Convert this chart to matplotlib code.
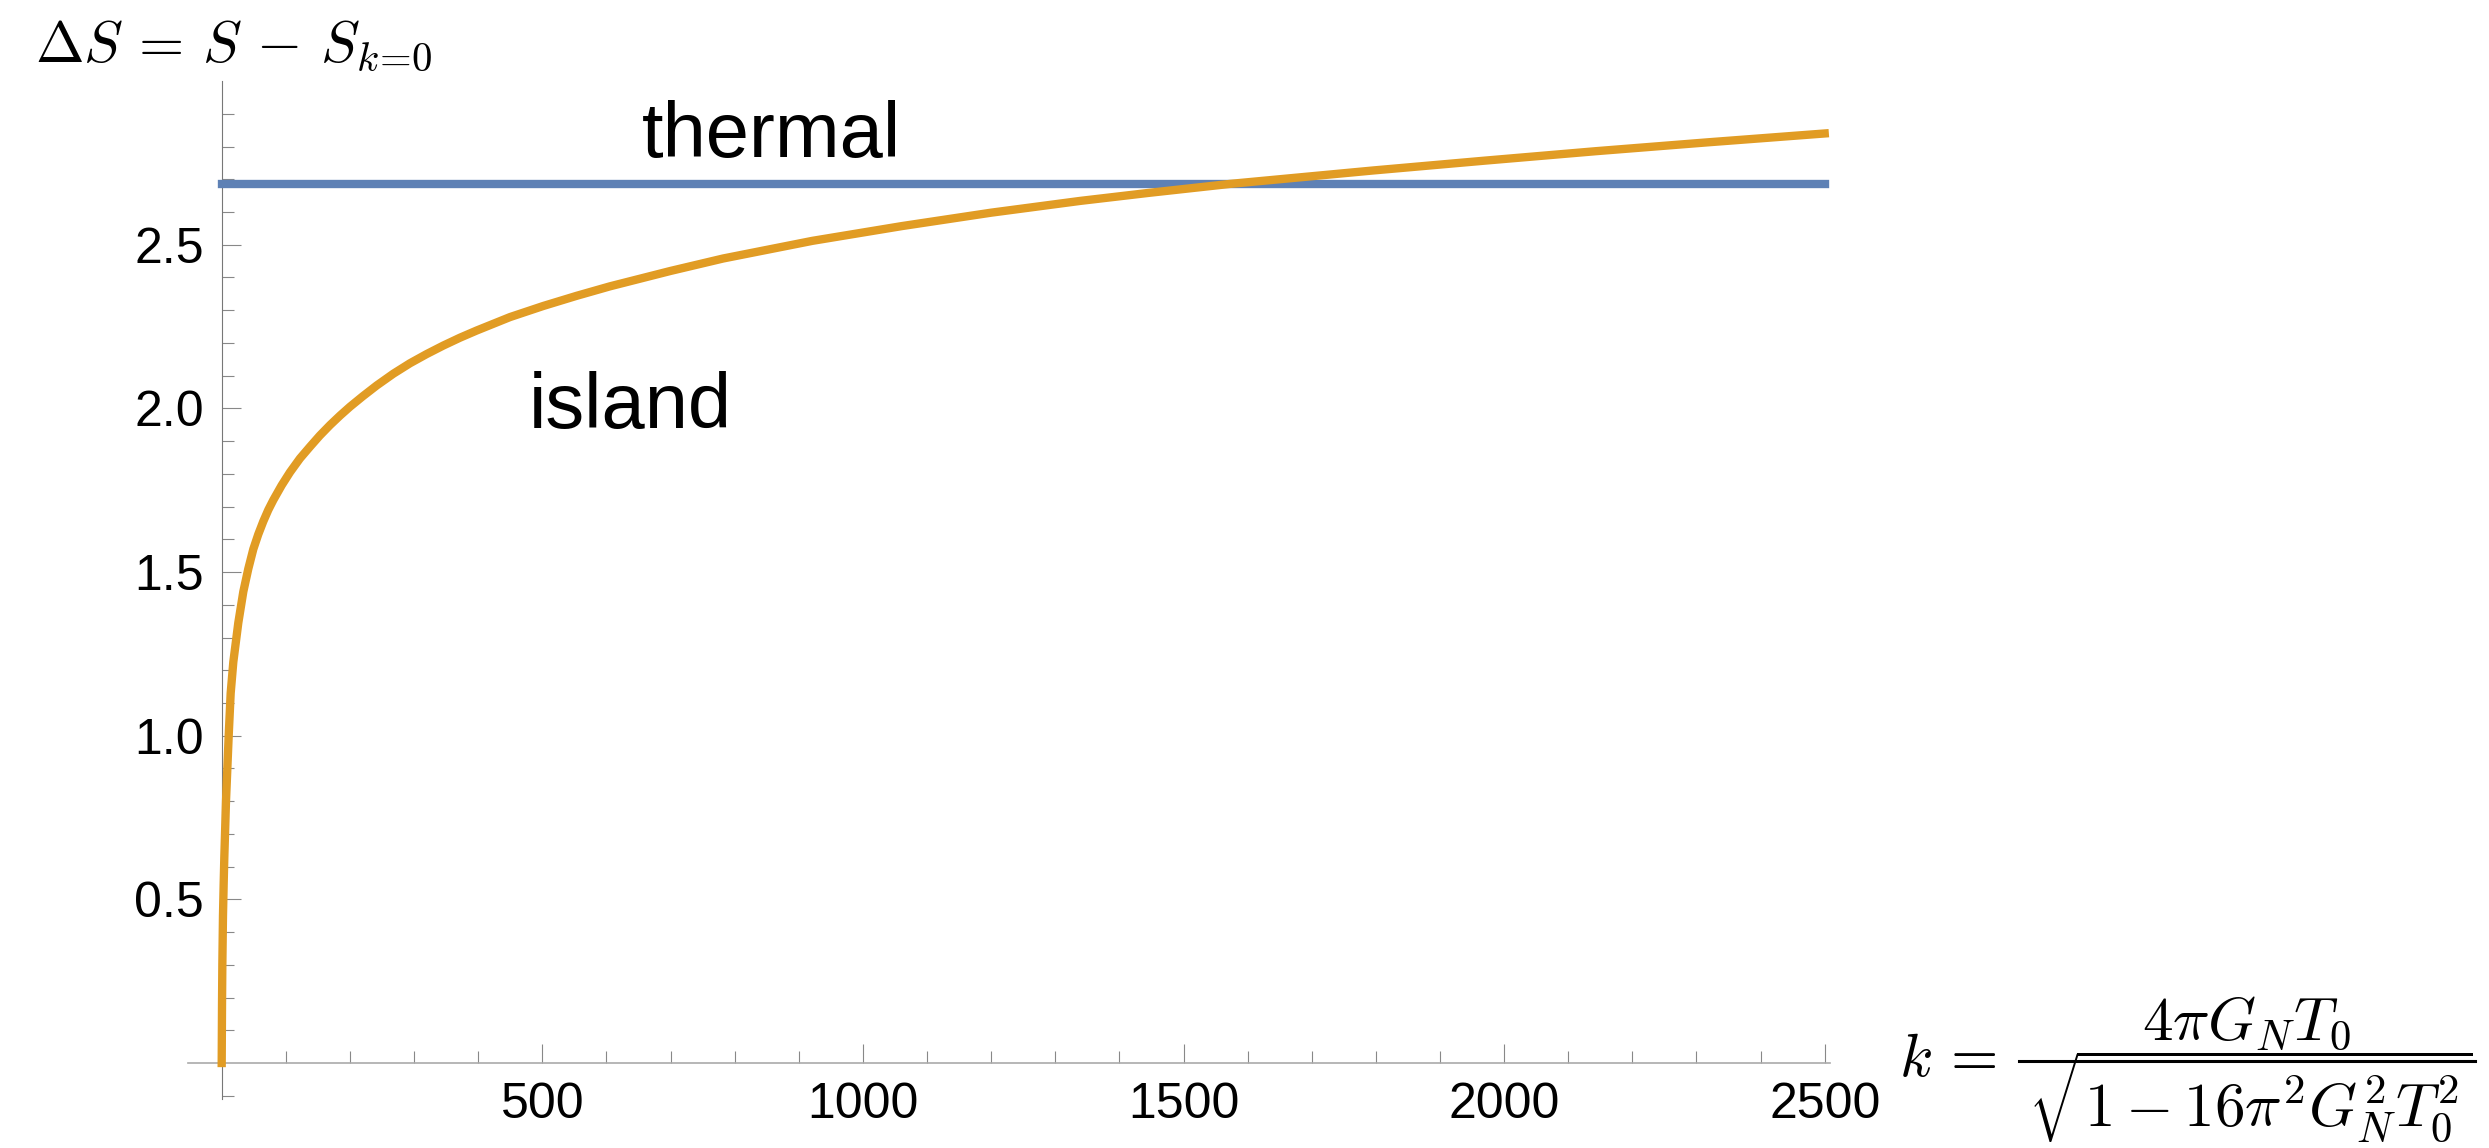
import numpy as np
import matplotlib
matplotlib.use("Agg")
import matplotlib.pyplot as plt
from matplotlib.ticker import FixedLocator, FuncFormatter
from matplotlib.lines import Line2D

plt.rcParams['font.family'] = ['Liberation Sans', 'DejaVu Sans']
plt.rcParams['mathtext.fontset'] = 'cm'

# ---- data ----
k_island = [0, 0.5, 1.0, 2.0, 3.1, 4.1, 6.7, 10.9, 14.0, 18.1, 25.9, 33.7, 41.5,
            49.3, 57, 64.9, 72.7, 80.5, 93.5, 106.5, 122, 137.7, 153, 168.9, 184.5,
            200, 220, 241.7, 267.7, 293.7, 319.6, 345.6, 371.6, 397.7, 449.6, 501.6,
            553.6, 605.6, 700, 782, 921.4, 1060.7, 1200, 1339, 1448, 1573, 1796,
            1970, 2144, 2318, 2500]
s_island = [0.0, 0.18, 0.30, 0.45, 0.55, 0.63, 0.80, 1.00, 1.13, 1.225, 1.345, 1.44, 1.51,
            1.57, 1.615, 1.655, 1.69, 1.72, 1.765, 1.805, 1.847, 1.883, 1.917, 1.949, 1.978,
            2.005, 2.037, 2.070, 2.106, 2.138, 2.166, 2.192, 2.216, 2.238, 2.279, 2.313,
            2.344, 2.373, 2.420, 2.458, 2.512, 2.557, 2.598, 2.634, 2.659, 2.686, 2.727,
            2.757, 2.786, 2.813, 2.840]
k_thermal = [0, 2500]
s_thermal = [2.686, 2.686]

x_major = [500, 1000, 1500, 2000, 2500]
x_minor = [v for v in range(100, 2500, 100) if v % 500 != 0]
y_major = [0.5, 1.0, 1.5, 2.0, 2.5]
y_minor = [round(v, 1) for v in np.arange(-0.1, 3.0, 0.1)
           if abs(v) > 1e-9 and abs(round(v * 2) - v * 2) > 1e-6]

W, H = 2489, 1148
fig = plt.figure(figsize=(W / 100, H / 100), dpi=100)

# axes geometry (pixels of the reference)
x0_px, y0_px = 221.7, 1063.0
px_per_x, px_per_y = 0.6412, 327.3
xlim = (-52, 2508)
ylim = (-0.11, 3.0)
left = (x0_px + xlim[0] * px_per_x) / W
width = (xlim[1] - xlim[0]) * px_per_x / W
bottom = (H - (y0_px - ylim[0] * px_per_y)) / H
height = (ylim[1] - ylim[0]) * px_per_y / H
ax = fig.add_axes([left, bottom, width, height])
ax.set_xlim(*xlim)
ax.set_ylim(*ylim)

orange = '#E19C24'
blue = '#5E81B5'
ax.plot(k_thermal, s_thermal, color=blue, lw=6.0, solid_capstyle='projecting',
        clip_on=False, zorder=3)
ax.plot(k_island, s_island, color=orange, lw=6.0, solid_capstyle='projecting',
        solid_joinstyle='round', clip_on=False, zorder=4)

for sp in ['top', 'right']:
    ax.spines[sp].set_visible(False)
ax.spines['left'].set_position(('data', 0))
ax.spines['bottom'].set_position(('data', 0))
ax.spines['left'].set_color('#777777')
ax.spines['left'].set_linewidth(0.8)
ax.spines['bottom'].set_color('#aaaaaa')
ax.spines['bottom'].set_linewidth(1.2)

ax.xaxis.set_major_locator(FixedLocator(x_major))
ax.xaxis.set_minor_locator(FixedLocator(x_minor))
ax.yaxis.set_major_locator(FixedLocator(y_major))
ax.yaxis.set_minor_locator(FixedLocator(y_minor))
ax.xaxis.set_major_formatter(FuncFormatter(lambda v, p: f"{int(v)}"))
ax.yaxis.set_major_formatter(FuncFormatter(lambda v, p: f"{v:.1f}"))

ax.tick_params(which='major', direction='in', length=13.7, width=0.8, color='#888888',
               labelsize=36, labelcolor='black')
ax.tick_params(which='minor', direction='in', length=8.3, width=0.8, color='#888888')
ax.tick_params(axis='x', which='major', pad=14)
ax.tick_params(axis='y', which='major', pad=13)
ax.patch.set_visible(False)

ax.text(857, 2.769, 'thermal', fontsize=56, ha='center', va='baseline')
ax.text(637, 1.939, 'island', fontsize=56, ha='center', va='baseline')


def fx(px):
    return px / W


def fy(py):
    return 1 - py / H


# y-axis label
fig.text(fx(35), fy(62), r'$\Delta S\,=\,S\,-\,S_{k\!=\!0}$', fontsize=42,
         ha='left', va='baseline')

# x-axis label: k = fraction
fs = 44
fig.text(fx(1899), fy(1076), r'$k\,=$', fontsize=fs, ha='left', va='baseline')
fig.text(fx(2246), fy(1040), r'$4\pi G_N T_0$', fontsize=fs, ha='center', va='baseline')
fig.add_artist(Line2D([fx(2019), fx(2475)], [fy(1061), fy(1061)],
                      transform=fig.transFigure, color='black', lw=2.2))
fig.text(fx(2250), fy(1127), r'$\sqrt{1 - 16\pi^2 G_N^2 T_0^2}$', fontsize=fs,
         ha='center', va='baseline')

fig.savefig('out.png', dpi=100)
